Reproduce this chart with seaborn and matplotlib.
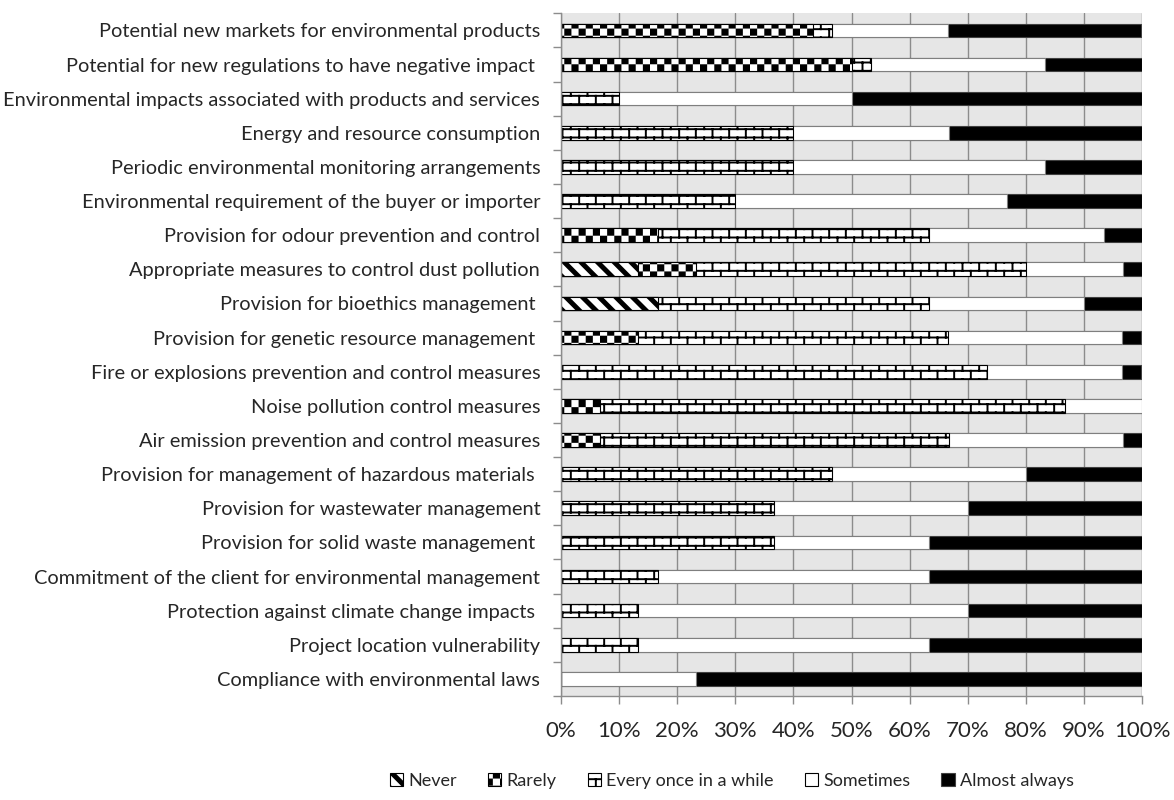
import warnings
warnings.filterwarnings('ignore')
import numpy as np
import matplotlib
matplotlib.use('Agg')
import matplotlib.pyplot as plt
import matplotlib.hatch as mhatch
from matplotlib.path import Path
from matplotlib.patches import Patch
import seaborn as sns

# ---------------- data (percent of respondents) ----------------
categories = [
    "Potential new markets for environmental products",
    "Potential for new regulations to have negative impact ",
    "Environmental impacts associated with products and services",
    "Energy and resource consumption",
    "Periodic environmental monitoring arrangements",
    "Environmental requirement of the buyer or importer",
    "Provision for odour prevention and control",
    "Appropriate measures to control dust pollution",
    "Provision for bioethics management ",
    "Provision for genetic resource management ",
    "Fire or explosions prevention and control measures",
    "Noise pollution control measures",
    "Air emission prevention and control measures",
    "Provision for management of hazardous materials ",
    "Provision for wastewater management",
    "Provision for solid waste management ",
    "Commitment of the client for environmental management",
    "Protection against climate change impacts ",
    "Project location vulnerability",
    "Compliance with environmental laws",
]
never = [0, 0, 0, 0, 0, 0, 0, 13.3, 16.7, 0, 0, 0, 0, 0, 0, 0, 0, 0, 0, 0]
rarely = [43.3, 50.0, 0, 0, 0, 0, 16.7, 10.0, 0, 13.3, 0, 6.7, 6.7, 0, 0, 0, 0, 0, 0, 0]
every_once = [3.3, 3.3, 10.0, 40.0, 40.0, 30.0, 46.7, 56.7, 46.7, 53.3, 73.3, 80.0, 60.0,
              46.7, 36.7, 36.7, 16.7, 13.3, 13.3, 0]
sometimes = [20.0, 30.0, 40.0, 26.7, 43.3, 46.7, 30.0, 16.7, 26.7, 30.0, 23.3, 13.3, 30.0,
             33.3, 33.3, 26.7, 46.7, 56.7, 50.0, 23.3]
almost_always = [33.3, 16.7, 50.0, 33.3, 16.7, 23.3, 6.7, 3.3, 10.0, 3.3, 3.3, 0, 3.3,
                 20.0, 30.0, 36.7, 36.7, 30.0, 36.7, 76.7]
series_names = ["Never", "Rarely", "Every once in a while", "Sometimes", "Almost always"]
x_ticks = list(range(0, 101, 10))
x_tick_labels = [f"{v}%" for v in x_ticks]

# ---------------- custom hatch patterns ----------------
HLW = 1.4  # hatch linewidth (points)
plt.rcParams['hatch.linewidth'] = HLW
_shrink = (HLW * 100 / 72) / 2 / 100  # stroke half-width in hatch-cell units


class CheckerHatch(mhatch.HatchPatternBase):
    def __init__(self, hatch, density):
        n = 14
        self.n = n
        self.cells = [(i, j) for i in range(n) for j in range(n) if (i + j) % 2 == 0] if 'c' in hatch else []
        self.num_vertices = len(self.cells) * 5

    def set_vertices_and_codes(self, vertices, codes):
        s = 1.0 / self.n
        d = _shrink
        k = 0
        for i, j in self.cells:
            x, y = i * s, j * s
            vertices[k:k + 5] = [(x + d, y + d), (x + s - d, y + d), (x + s - d, y + s - d),
                                 (x + d, y + s - d), (x + d, y + d)]
            codes[k:k + 5] = [Path.MOVETO, Path.LINETO, Path.LINETO, Path.LINETO, Path.CLOSEPOLY]
            k += 5


class BrickHatch(mhatch.HatchPatternBase):
    def __init__(self, hatch, density):
        self.on = 'b' in hatch
        self.rows = 12
        self.cols = 6
        if self.on:
            self.num_vertices = 2 * self.rows + 2 * self.cols * (self.rows + 1)
        else:
            self.num_vertices = 0

    def set_vertices_and_codes(self, vertices, codes):
        m, nb = self.rows, self.cols
        k = 0
        for r in range(m):
            y = (r + 0.5) / m
            vertices[k:k + 2] = [(0, y), (1, y)]
            codes[k:k + 2] = [Path.MOVETO, Path.LINETO]
            k += 2
        for r in range(-1, m):
            y0, y1 = (r + 0.5) / m, (r + 1.5) / m
            for c in range(nb):
                x = (c + 0.25 + 0.5 * (r % 2)) / nb
                vertices[k:k + 2] = [(x, y0), (x, y1)]
                codes[k:k + 2] = [Path.MOVETO, Path.LINETO]
                k += 2


class StripeHatch(mhatch.HatchPatternBase):
    def __init__(self, hatch, density):
        self.on = 'n' in hatch
        self.n = 6
        self.ks = list(range(-self.n - 1, self.n + 1)) if self.on else []
        self.num_vertices = len(self.ks) * 5

    def set_vertices_and_codes(self, vertices, codes):
        w = 0.42 / self.n - 2 * _shrink * 1.4
        k = 0
        for kk in self.ks:
            c = kk / self.n
            vertices[k:k + 5] = [(c, 1), (c + w, 1), (c + w + 1, 0), (c + 1, 0), (c, 1)]
            codes[k:k + 5] = [Path.MOVETO, Path.LINETO, Path.LINETO, Path.LINETO, Path.CLOSEPOLY]
            k += 5


mhatch._hatch_types.extend([CheckerHatch, BrickHatch, StripeHatch])

# ---------------- figure ----------------
sns.set_style("white")
plt.rcParams['font.family'] = ['Lato', 'DejaVu Sans']
FS_Y = 14.4
FS_X = 16
FS_LEG = 13

fig = plt.figure(figsize=(11.74, 8.0), dpi=100)
L, R, T, B = 561, 1142, 13.3, 696
ax = fig.add_axes([L / 1174, 1 - B / 800, (R - L) / 1174, (B - T) / 800])
ax.set_facecolor('#E6E6E6')

cum1 = np.array(never)
cum2 = cum1 + np.array(rarely)
cum3 = cum2 + np.array(every_once)
cum4 = cum3 + np.array(sometimes)
cum5 = cum4 + np.array(almost_always)

styles = {
    "Almost always": dict(color='black', edgecolor='#404040', hatch=None),
    "Sometimes": dict(color='white', edgecolor='#7F7F7F', hatch=None),
    "Every once in a while": dict(color='white', edgecolor='black', hatch='b'),
    "Rarely": dict(color='white', edgecolor='black', hatch='c'),
    "Never": dict(color='white', edgecolor='black', hatch='n'),
}
stack = [("Almost always", cum5), ("Sometimes", cum4), ("Every once in a while", cum3),
         ("Rarely", cum2), ("Never", cum1)]
for name, vals in stack:
    st = styles[name]
    sns.barplot(x=vals, y=categories, orient='h', color=st['color'], edgecolor=st['edgecolor'],
                hatch=st['hatch'], linewidth=0.8, width=0.4, saturation=1, errorbar=None, ax=ax)

ax.set_xlim(0, 100)
ax.set_ylim(len(categories) - 0.5, -0.5)
ax.set_xlabel('')
ax.set_ylabel('')
ax.set_xticks(x_ticks)
ax.set_xticklabels(x_tick_labels, fontsize=FS_X)
ax.xaxis.grid(True, color='#8C8C8C', linewidth=1.0)
ax.yaxis.grid(False)
ax.set_axisbelow(True)

ax.set_yticks(range(len(categories)))
ax.set_yticklabels(categories, fontsize=FS_Y)
ax.set_yticks(np.arange(-0.5, len(categories), 1.0), minor=True)
ax.tick_params(axis='y', which='major', length=0, pad=15)
ax.tick_params(axis='y', which='minor', length=6, width=1, color='#8C8C8C', direction='out', left=True)
ax.tick_params(axis='x', which='major', length=6, width=1, color='#8C8C8C', direction='out', pad=12, bottom=True)

for s in ['top', 'right']:
    ax.spines[s].set_visible(False)
for s in ['left', 'bottom']:
    ax.spines[s].set_color('#8C8C8C')
    ax.spines[s].set_linewidth(1.0)

handles = []
for name in series_names:
    st = styles[name]
    handles.append(Patch(facecolor=st['color'], edgecolor=st['edgecolor'] if name != 'Sometimes' else 'black',
                         hatch=st['hatch'], linewidth=0.8, label=name))
fig.legend(handles=handles, labels=series_names, loc='center', bbox_to_anchor=(732 / 1174, 1 - 781 / 800),
           ncol=5, frameon=False, fontsize=FS_LEG, handlelength=0.75, handleheight=0.75, handletextpad=0.3,
           columnspacing=1.7)

fig.savefig('out.png', dpi=100)
